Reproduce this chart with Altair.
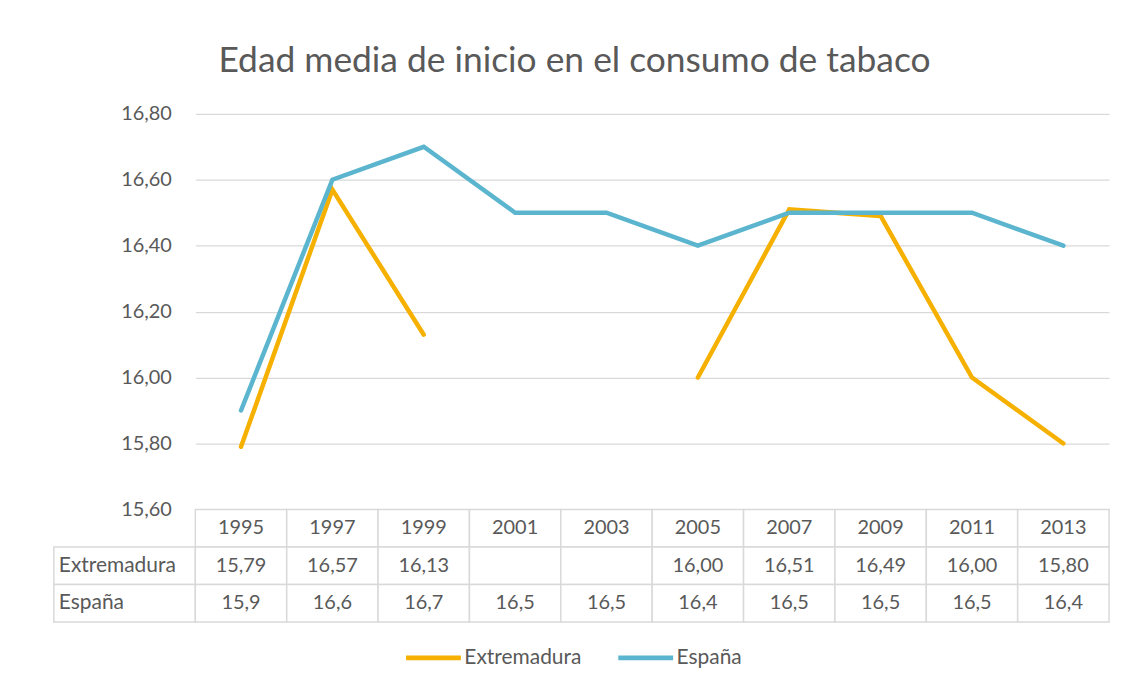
import altair as alt
import pandas as pd

years = [1995, 1997, 1999, 2001, 2003, 2005, 2007, 2009, 2011, 2013]
extremadura = [15.79, 16.57, 16.13, None, None, 16.00, 16.51, 16.49, 16.00, 15.80]
espana = [15.9, 16.6, 16.7, 16.5, 16.5, 16.4, 16.5, 16.5, 16.5, 16.4]
series = ["Extremadura", "España"]
colors = ["#F5B000", "#5BB5CE"]
y_ticks = [15.6, 15.8, 16.0, 16.2, 16.4, 16.6, 16.8]
title = "Edad media de inicio en el consumo de tabaco"

FONT = "Lato"
TXT = "#595959"
GRID = "#D9D9D9"
PLOT_W = 917
PLOT_H = 397
LAB_W = 142
TAB_H = 113
NUM_FS = 20
LAB_FS = 21

rows = []
for y, e, s in zip(years, extremadura, espana):
    rows.append({"year": str(y), "serie": "Extremadura", "value": e})
    rows.append({"year": str(y), "serie": "España", "value": s})
df_lines = pd.DataFrame(rows)

year_dom = [str(y) for y in years]
row_dom = ["_header", "Extremadura", "España"]

def fmt(v, d):
    if v is None:
        return ""
    return f"{v:.{d}f}".replace(".", ",")

cells = []
for y, e, s in zip(years, extremadura, espana):
    cells.append({"year": str(y), "row": "_header", "txt": str(y)})
    cells.append({"year": str(y), "row": "Extremadura", "txt": fmt(e, 2)})
    cells.append({"year": str(y), "row": "España", "txt": fmt(s, 1)})
df_cells = pd.DataFrame(cells)

df_labels = pd.DataFrame({"row": series, "c": ["c", "c"]})

lines = alt.Chart(df_lines).mark_line(
    strokeWidth=4.5, strokeCap="round", strokeJoin="miter",
    invalid="break-paths-show-domains"
).encode(
    x=alt.X("year:O", scale=alt.Scale(type="point", domain=year_dom, padding=0.5), axis=None),
    y=alt.Y("value:Q",
            scale=alt.Scale(domain=[15.6, 16.8], nice=False, zero=False),
            axis=alt.Axis(values=y_ticks, title=None, domain=False, ticks=False,
                          labelPadding=24, labelFontSize=NUM_FS, labelColor=TXT, labelFont=FONT,
                          gridColor=GRID, gridWidth=1.3,
                          labelExpr="replace(format(datum.value, '.2f'), '.', ',')")),
    color=alt.Color("serie:N", scale=alt.Scale(domain=series, range=colors),
                    legend=alt.Legend(title=None, orient="none", direction="horizontal",
                                      legendX=351, legendY=516,
                                      symbolType="stroke", symbolSize=3025, symbolStrokeWidth=5,
                                      labelFontSize=LAB_FS, labelColor=TXT, labelFont=FONT,
                                      labelOffset=1, columnPadding=26)),
).properties(width=PLOT_W, height=PLOT_H)

spacer = alt.Chart(df_labels).mark_point(opacity=0, size=0).encode(
    y=alt.Y("row:N", axis=None)
).properties(width=LAB_W, height=PLOT_H)

yband = alt.Y("row:N", scale=alt.Scale(domain=row_dom, paddingInner=0, paddingOuter=0), axis=None)
xyear = alt.X("year:N", scale=alt.Scale(domain=year_dom, paddingInner=0, paddingOuter=0), axis=None)
body_rect = alt.Chart(df_cells).mark_rect(fill="white", stroke=GRID, strokeWidth=1.5).encode(
    x=xyear, y=yband,
)
body_text = alt.Chart(df_cells).mark_text(fontSize=NUM_FS, font=FONT, color=TXT, baseline="middle").encode(
    x=xyear, y=yband, text="txt:N",
)
body = alt.layer(body_rect, body_text).properties(width=PLOT_W, height=TAB_H)

lab_rect = alt.Chart(df_labels).mark_rect(fill="white", stroke=GRID, strokeWidth=1.5).encode(
    x=alt.X("c:N", scale=alt.Scale(paddingInner=0, paddingOuter=0), axis=None),
    y=yband,
)
lab_text = alt.Chart(df_labels).mark_text(fontSize=LAB_FS, font=FONT, color=TXT, align="left",
                                          baseline="middle", dx=5).encode(
    x=alt.X("c:N", scale=alt.Scale(paddingInner=0, paddingOuter=0), axis=None, bandPosition=0),
    y=yband,
    text="row:N",
)
labels = alt.layer(lab_rect, lab_text).properties(width=LAB_W, height=TAB_H)

chart = alt.concat(spacer, lines, labels, body, columns=2, spacing=0, bounds="flush").properties(
    title=alt.TitleParams(title, fontSize=35.5, font=FONT, fontWeight="normal", color=TXT,
                          anchor="middle", offset=24, dx=-7),
    padding={"left": 45, "top": 35, "right": 10, "bottom": 10},
).configure_view(stroke=None).configure_concat(spacing=0)

chart.save("out.html", embed_options={"renderer": "svg", "actions": False})
